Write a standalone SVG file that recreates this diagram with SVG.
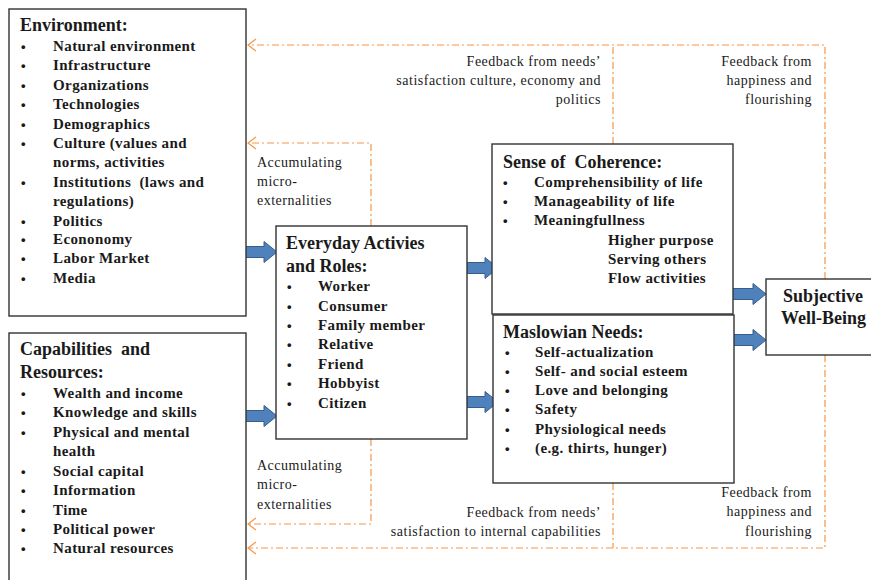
<svg xmlns="http://www.w3.org/2000/svg" width="871" height="580" viewBox="0 0 871 580">
  <defs>
    <style>
      .box { fill: #ffffff; stroke: #333333; stroke-width: 1.4; }
      .title { font-weight: bold; font-size: 18px; fill: #1a1a1a; }
      .item { font-weight: bold; font-size: 15px; letter-spacing: 0.4px; fill: #1a1a1a; }
      .bul { font-family: "Liberation Sans", Arial, sans-serif; font-weight: bold; font-size: 13px; fill: #1a1a1a; }
      .note { font-size: 14px; letter-spacing: 0.5px; fill: #1a1a1a; }
      .fb { fill: none; stroke: #F79646; stroke-width: 1.2; stroke-dasharray: 7 3 2 3; }
      .fbhead { fill: none; stroke: #F79646; stroke-width: 1.2; }
      .blk { fill: #4F81BD; stroke: #385D8A; stroke-width: 1; }
    </style>
    <!-- block arrow pointing right, tip at origin -->
    <path id="blockArrow" d="M-45,-5.5 L-13,-5.5 L-13,-10.5 L0,0 L-13,10.5 L-13,5.5 L-45,5.5 Z"/>
    <!-- open chevron for feedback lines, tip at origin pointing left -->
    <path id="chev" d="M8,-6 L0,0 L8,6"/>
  </defs>

  <rect width="871" height="580" fill="#ffffff"/>

  <!-- feedback and externality connectors -->
  <g id="connectors">
    <path class="fb" d="M825,279 V45 H248"/>
    <path class="fb" d="M613,144 V45"/>
    <path class="fb" d="M371,226 V143 H248"/>
    <path class="fb" d="M371,439 V524 H248"/>
    <path class="fb" d="M825,355 V548 H248"/>
    <path class="fb" d="M613,483 V548"/>
    <use href="#chev" class="fbhead" x="248" y="45"/>
    <use href="#chev" class="fbhead" x="248" y="143"/>
    <use href="#chev" class="fbhead" x="248" y="524"/>
    <use href="#chev" class="fbhead" x="248" y="548"/>

    <use href="#blockArrow" class="blk" x="277" y="252"/>
    <use href="#blockArrow" class="blk" x="277" y="416"/>
    <use href="#blockArrow" class="blk" x="498" y="268"/>
    <use href="#blockArrow" class="blk" x="498" y="402"/>
    <use href="#blockArrow" class="blk" x="766" y="294"/>
    <use href="#blockArrow" class="blk" x="766" y="340"/>
  </g>

  <g font-family="'Liberation Serif', 'DejaVu Serif', 'Times New Roman', serif">
  <!-- connector labels -->
  <g id="labels">
    <text class="note" text-anchor="end" x="601" y="66">Feedback  from needs’</text>
    <text class="note" text-anchor="end" x="601" y="85">satisfaction culture, economy and</text>
    <text class="note" text-anchor="end" x="601" y="104">politics</text>
    <text class="note" text-anchor="end" x="812" y="66">Feedback  from</text>
    <text class="note" text-anchor="end" x="812" y="85">happiness and</text>
    <text class="note" text-anchor="end" x="812" y="104">flourishing</text>

    <text class="note" x="257" y="167">Accumulating</text>
    <text class="note" x="257" y="186">micro-</text>
    <text class="note" x="257" y="205">externalities</text>

    <text class="note" x="257" y="470">Accumulating</text>
    <text class="note" x="257" y="489">micro-</text>
    <text class="note" x="257" y="509">externalities</text>

    <text class="note" text-anchor="end" x="601" y="517">Feedback  from needs’</text>
    <text class="note" text-anchor="end" x="601" y="536">satisfaction to internal capabilities</text>
    <text class="note" text-anchor="end" x="812" y="497">Feedback  from</text>
    <text class="note" text-anchor="end" x="812" y="516">happiness and</text>
    <text class="note" text-anchor="end" x="812" y="536">flourishing</text>
  </g>

  <g id="environment">
    <rect class="box" x="9" y="9" width="237" height="307"/>
    <text class="title" x="20" y="31">Environment:</text>
    <g class="bul">
      <text x="21" y="51">•</text><text x="21" y="70">•</text><text x="21" y="90">•</text>
      <text x="21" y="109">•</text><text x="21" y="129">•</text><text x="21" y="148">•</text>
      <text x="21" y="187">•</text><text x="21" y="226">•</text><text x="21" y="244">•</text>
      <text x="21" y="263">•</text><text x="21" y="283">•</text>
    </g>
    <text class="item" x="53" y="51">Natural environment</text>
    <text class="item" x="53" y="70">Infrastructure</text>
    <text class="item" x="53" y="90">Organizations</text>
    <text class="item" x="53" y="109">Technologies</text>
    <text class="item" x="53" y="129">Demographics</text>
    <text class="item" x="53" y="148">Culture (values and</text>
    <text class="item" x="53" y="167">norms, activities</text>
    <text class="item" x="53" y="187" xml:space="preserve">Institutions  (laws and</text>
    <text class="item" x="53" y="206">regulations)</text>
    <text class="item" x="53" y="226">Politics</text>
    <text class="item" x="53" y="244">Econonomy</text>
    <text class="item" x="53" y="263">Labor Market</text>
    <text class="item" x="53" y="283">Media</text>
  </g>

  <g id="capabilities">
    <rect class="box" x="9" y="333" width="237" height="260"/>
    <text class="title" x="20" y="355" xml:space="preserve">Capabilities  and</text>
    <text class="title" x="20" y="378">Resources:</text>
    <g class="bul">
      <text x="21" y="398">•</text><text x="21" y="417">•</text><text x="21" y="437">•</text>
      <text x="21" y="476">•</text><text x="21" y="495">•</text><text x="21" y="515">•</text>
      <text x="21" y="534">•</text><text x="21" y="553">•</text>
    </g>
    <text class="item" x="53" y="398">Wealth and income</text>
    <text class="item" x="53" y="417">Knowledge and skills</text>
    <text class="item" x="53" y="437">Physical and mental</text>
    <text class="item" x="53" y="456">health</text>
    <text class="item" x="53" y="476">Social capital</text>
    <text class="item" x="53" y="495">Information</text>
    <text class="item" x="53" y="515">Time</text>
    <text class="item" x="53" y="534">Political power</text>
    <text class="item" x="53" y="553">Natural resources</text>
  </g>

  <g id="everyday">
    <rect class="box" x="276" y="226" width="191" height="213"/>
    <text class="title" x="286" y="249">Everyday Activies</text>
    <text class="title" x="286" y="272">and Roles:</text>
    <g class="bul">
      <text x="287" y="291">•</text><text x="287" y="311">•</text><text x="287" y="330">•</text>
      <text x="287" y="349">•</text><text x="287" y="369">•</text><text x="287" y="388">•</text>
      <text x="287" y="408">•</text>
    </g>
    <text class="item" x="318" y="291">Worker</text>
    <text class="item" x="318" y="311">Consumer</text>
    <text class="item" x="318" y="330">Family member</text>
    <text class="item" x="318" y="349">Relative</text>
    <text class="item" x="318" y="369">Friend</text>
    <text class="item" x="318" y="388">Hobbyist</text>
    <text class="item" x="318" y="408">Citizen</text>
  </g>

  <g id="coherence">
    <rect class="box" x="492" y="144" width="241" height="170"/>
    <text class="title" x="503" y="168" xml:space="preserve">Sense of  Coherence:</text>
    <g class="bul">
      <text x="503" y="187">•</text><text x="503" y="206">•</text><text x="503" y="225">•</text>
    </g>
    <text class="item" x="534" y="187">Comprehensibility of life</text>
    <text class="item" x="534" y="206">Manageability of life</text>
    <text class="item" x="534" y="225">Meaningfullness</text>
    <text class="item" x="608" y="245">Higher purpose</text>
    <text class="item" x="608" y="264">Serving others</text>
    <text class="item" x="608" y="283">Flow activities</text>
  </g>

  <g id="maslow">
    <rect class="box" x="493" y="315" width="241" height="168"/>
    <text class="title" x="503" y="338">Maslowian Needs:</text>
    <g class="bul">
      <text x="505" y="357">•</text><text x="505" y="376">•</text><text x="505" y="395">•</text>
      <text x="505" y="414">•</text><text x="505" y="434">•</text><text x="505" y="453">•</text>
    </g>
    <text class="item" x="535" y="357">Self-actualization</text>
    <text class="item" x="535" y="376">Self- and social esteem</text>
    <text class="item" x="535" y="395">Love and belonging</text>
    <text class="item" x="535" y="414">Safety</text>
    <text class="item" x="535" y="434">Physiological needs</text>
    <text class="item" x="535" y="453">(e.g. thirts, hunger)</text>
  </g>

  <g id="wellbeing">
    <rect class="box" x="766" y="279" width="115" height="76"/>
    <text class="title" x="783" y="302">Subjective</text>
    <text class="title" x="781" y="324">Well-Being</text>
  </g>
  </g>
</svg>
